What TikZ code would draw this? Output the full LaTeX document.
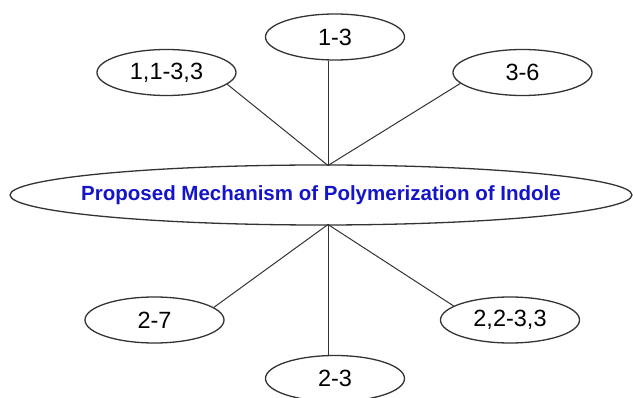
\documentclass[tikz,border=0pt]{standalone}
\usepackage{fontspec}
\setmainfont{Liberation Sans}
\usetikzlibrary{shapes.geometric}
\definecolor{linec}{HTML}{333333}
\definecolor{titlec}{HTML}{1414C8}
\tikzset{
  oval/.style={ellipse,draw=linec,line width=1.3pt,inner sep=0pt,minimum width=139pt,minimum height=46pt,font=\fontsize{23.5}{26}\selectfont},
  spoke/.style={draw=linec,line width=1pt}
}

\begin{document}
\begin{tikzpicture}[x=1pt,y=-1pt]
\useasboundingbox (0,0) rectangle (633,398);
\node[oval,minimum width=622pt,minimum height=60pt,font=\fontsize{20.5}{24}\selectfont\bfseries,text=titlec] (mech) at (321,195) {\makebox[0pt]{Proposed Mechanism of Polymerization of Indole}};
\coordinate (hubT) at (328,165.5);
\coordinate (hubB) at (328,224.5);
\node[oval] (n13) at (335,37) {1-3};
\node[oval] (n1133) at (166.5,72.5) {1,1-3,3};
\node[oval] (n36) at (522.5,72.5) {3-6};
\node[oval] (n27) at (154.5,320) {2-7};
\node[oval] (n2233) at (510,320) {2,2-3,3};
\node[oval] (n23) at (335,378.5) {2-3};
\draw[spoke] (hubT) -- (hubT |- n13.south);
\draw[spoke] (hubT) -- (n1133.-11);
\draw[spoke] (hubT) -- (n36.190);
\draw[spoke] (hubB) -- (hubB |- n23.north);
\draw[spoke] (hubB) -- (n27.12);
\draw[spoke] (hubB) -- (n2233.166);
\end{tikzpicture}
\end{document}
